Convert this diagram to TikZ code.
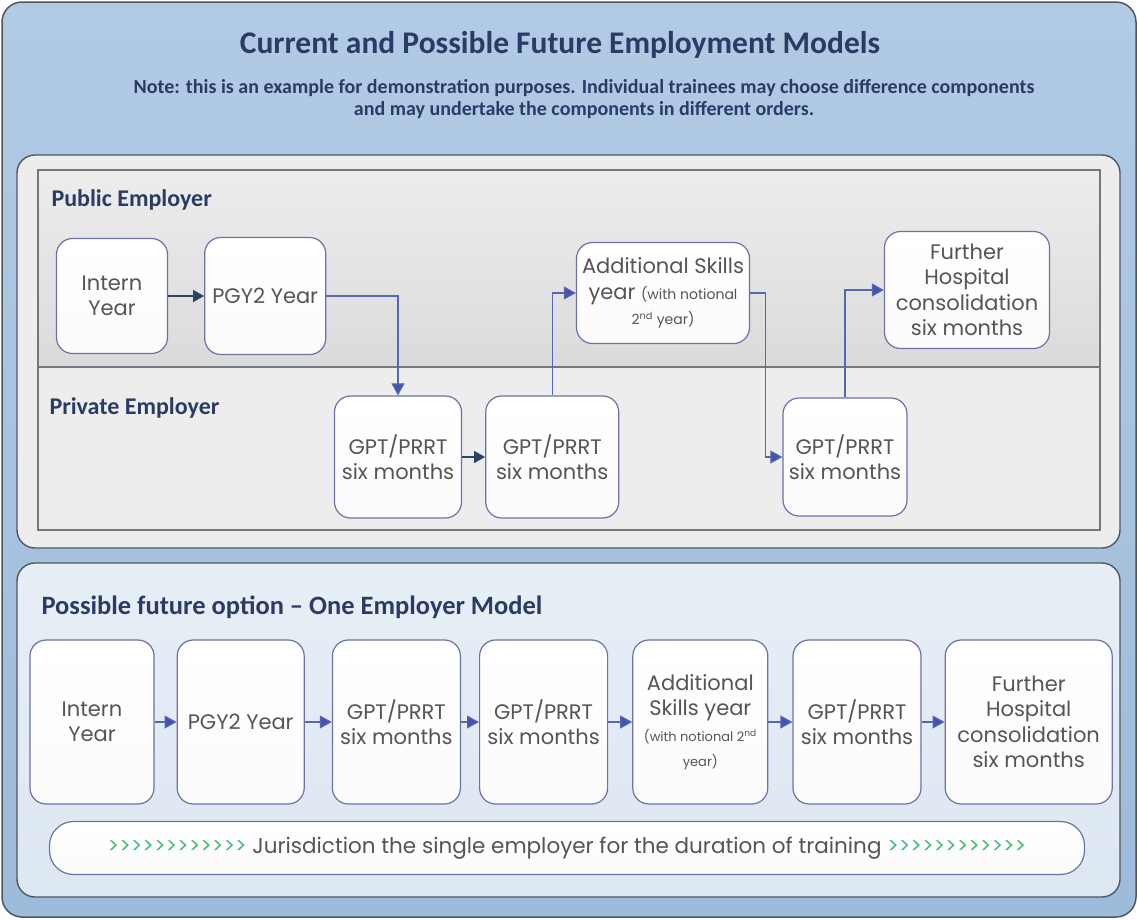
\documentclass[tikz,border=0pt]{standalone}
\usepackage{fontspec}
\setmainfont{Poppins}
\newfontfamily\headfont{Carlito}
\usetikzlibrary{positioning,arrows.meta}

\definecolor{outerblue}{HTML}{A9C5E2}
\definecolor{outerblueb}{HTML}{9DBBDA}
\definecolor{frame}{HTML}{4F5660}
\definecolor{panelgrey}{HTML}{EDEDED}
\definecolor{lanegrey}{HTML}{E6E6E6}
\definecolor{lowpanel}{HTML}{DDE7F2}
\definecolor{boxline}{HTML}{6B73A6}
\definecolor{boxfill}{HTML}{F7F7F9}
\definecolor{textgrey}{HTML}{555555}
\definecolor{navy}{HTML}{2B3B66}
\definecolor{linkblue}{HTML}{5666B4}
\definecolor{headblue}{HTML}{4254AE}
\definecolor{darklink}{HTML}{2C4463}
\definecolor{arrowgreen}{HTML}{45BB7A}

\newcommand\chevrons{\textcolor{arrowgreen}{\foreach \k in {1,...,12}{>\kern0pt}}}

\begin{document}
\begin{tikzpicture}
  [x=1pt, y=-1pt,
   box/.style={rectangle, rounded corners=16pt, draw=boxline, line width=1.2pt,
     top color=white, bottom color=boxfill!90!gray!20, align=center, text=textgrey,
     font=\fontsize{21}{25.5}\selectfont, inner sep=2pt},
   lane/.style={font=\headfont\bfseries\fontsize{24}{28}\selectfont, text=navy, anchor=west},
   link/.style={draw=linkblue, line width=1.1pt, -{Triangle[length=12pt,width=13pt,fill=headblue]}},
   darklink/.style={draw=darklink, line width=1.3pt, -{Triangle[length=11pt,width=12pt]}}]

  % background and panels
  \path[use as bounding box] (0,0) rectangle (1138,919);
  \draw[rounded corners=20pt, top color=outerblue!90!white, bottom color=outerblueb,
    draw=frame, line width=1.5pt] (2,2) rectangle (1136,917);
  \draw[rounded corners=18pt, fill=panelgrey, draw=frame, line width=1.4pt]
    (17,155) rectangle (1120,548);
  \draw[top color=panelgrey, bottom color=lanegrey!95!black, draw=none] (38,170) rectangle (1100,367);
  \draw[fill=panelgrey, draw=none] (38,367) rectangle (1100,530);
  \draw[draw=frame!80, line width=1.4pt] (38,170) rectangle (1100,530);
  \draw[draw=frame!80, line width=1.4pt] (38,367) -- (1100,367);
  \draw[rounded corners=18pt, top color=lowpanel!70!white, bottom color=lowpanel,
    draw=frame, line width=1.4pt] (17,563) rectangle (1120,897);

  % headings
  \node[font=\headfont\bfseries\fontsize{31.5}{36}\selectfont, text=navy] (title) at (560,45)
    {Current and Possible Future Employment Models};
  \node[font=\headfont\bfseries\fontsize{20}{22}\selectfont, text=navy, align=center] (note) at (584,99)
    {Note: this is an example for demonstration purposes. Individual trainees may choose difference components\\
     and may undertake the components in different orders.};
  \node[lane] (public) at (48,200) {Public Employer};
  \node[lane] (private) at (46,408) {Private Employer};
  \node[lane, font=\headfont\bfseries\fontsize{26.5}{30}\selectfont] (future) at (38,607)
    {Possible future option – One Employer Model};

  % current model
  \node[box, minimum width=111pt, minimum height=115pt] (intern) at (112,296) {Intern\\Year};
  \node[box, minimum width=121pt, minimum height=117pt, right=36pt of intern] (pgy2) {PGY2 Year};
  \node[box, minimum width=173pt, minimum height=101pt] (skills) at (663,293)
    {Additional Skills\\year {\fontsize{14}{16}\selectfont (with notional}\\
     {\fontsize{14}{16}\selectfont 2\textsuperscript{nd} year)}};
  \node[box, minimum width=165pt, minimum height=117pt] (further) at (967,290)
    {Further\\Hospital\\consolidation\\six months};
  \node[box, minimum width=127pt, minimum height=122pt] (gpt1) at (398,457) {GPT/PRRT\\six months};
  \node[box, minimum width=133pt, minimum height=122pt, right=23pt of gpt1] (gpt2) {GPT/PRRT\\six months};
  \node[box, minimum width=124pt, minimum height=118pt] (gpt3) at (845,457) {GPT/PRRT\\six months};

  \draw[darklink] (intern) -- (pgy2);
  \draw[link] (pgy2.east) -| (gpt1.north);
  \draw[darklink] (gpt1) -- (gpt2);
  \draw[link] (gpt2.north) |- (skills.west);
  \draw[link] (skills.east) -- ++(15,0) |- (gpt3.west);
  \draw[link] (gpt3.north) |- (further.west);

  % one employer model
  \node[box, minimum width=124pt, minimum height=164pt] (lintern) at (92,722) {Intern\\Year};
  \node[box, minimum width=127pt, minimum height=164pt, right=22pt of lintern] (lpgy2) {PGY2 Year};
  \node[box, minimum width=128pt, minimum height=164pt, right=27pt of lpgy2] (lgpt1) {GPT/PRRT\\six months};
  \node[box, minimum width=128pt, minimum height=164pt, right=18pt of lgpt1] (lgpt2) {GPT/PRRT\\six months};
  \node[box, minimum width=135pt, minimum height=164pt, right=24pt of lgpt2] (lskills)
    {Additional\\Skills year\\{\fontsize{13}{18}\selectfont (with notional 2\textsuperscript{nd}}\\
     {\fontsize{13}{18}\selectfont year)}};
  \node[box, minimum width=128pt, minimum height=164pt, right=24pt of lskills] (lgpt3) {GPT/PRRT\\six months};
  \node[box, minimum width=167pt, minimum height=164pt, right=23pt of lgpt3] (lfurther)
    {Further\\Hospital\\consolidation\\six months};

  \draw[link] (lintern) -- (lpgy2);
  \draw[link] (lpgy2) -- (lgpt1);
  \draw[link] (lgpt1) -- (lgpt2);
  \draw[link] (lgpt2) -- (lskills);
  \draw[link] (lskills) -- (lgpt3);
  \draw[link] (lgpt3) -- (lfurther);

  \node[box, rounded corners=24pt, minimum width=1035pt, minimum height=53pt, fill=white,
    font=\fontsize{21.5}{25}\selectfont] (span) at (567,848)
    {\chevrons{} Jurisdiction the single employer for the duration of training \chevrons};
\end{tikzpicture}
\end{document}
